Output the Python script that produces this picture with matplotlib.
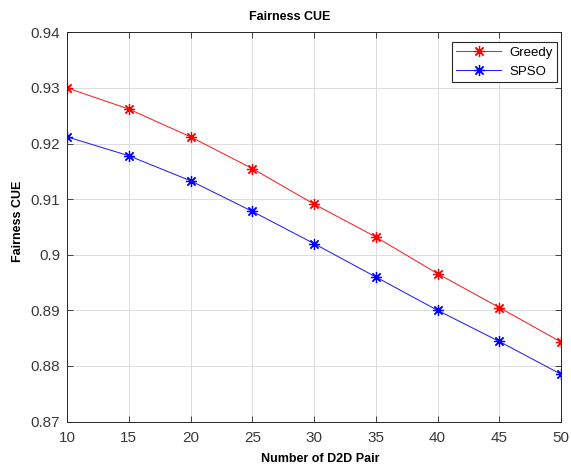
import matplotlib
matplotlib.use("Agg")
import matplotlib.pyplot as plt

x_pairs = [10, 15, 20, 25, 30, 35, 40, 45, 50]
greedy = [0.9300, 0.9262, 0.9212, 0.9155, 0.9091, 0.9032, 0.8966, 0.8905, 0.8843]
spso = [0.9212, 0.9178, 0.9133, 0.9078, 0.9020, 0.8960, 0.8900, 0.8844, 0.8785]
yticks = [0.87, 0.88, 0.89, 0.90, 0.91, 0.92, 0.93, 0.94]
ytick_labels = ["0.87", "0.88", "0.89", "0.9", "0.91", "0.92", "0.93", "0.94"]

plt.rcParams['font.family'] = ['Liberation Sans', 'DejaVu Sans']

W, H = 571, 466
fig = plt.figure(figsize=(W / 100, H / 100), dpi=100)
ax = fig.add_axes([67 / W, 1 - 421.5 / H, (561 - 67) / W, (421.5 - 32.3) / H])

ast = (8, 2, 0)
ax.plot(x_pairs, greedy, color='#ff2020', marker=ast, markersize=8, linewidth=0.75,
        markeredgewidth=0.9, markeredgecolor='#ff0000', label='Greedy')
ax.plot(x_pairs, spso, color='#2020ff', marker=ast, markersize=8, linewidth=0.75,
        markeredgewidth=0.9, markeredgecolor='#0000ff', label='SPSO')

ax.set_xlim(10, 50)
ax.set_ylim(0.87, 0.94)
ax.set_xticks(x_pairs)
ax.set_yticks(yticks)
ax.set_yticklabels(ytick_labels)
ax.tick_params(direction='in', length=4, width=0.6, labelsize=11, colors='#262626',
               labelcolor='#3a3a3a', top=True, right=True)
ax.tick_params(axis='x', pad=7)
ax.tick_params(axis='y', pad=5)
ax.grid(True, color='#dcdcdc', linewidth=0.7)
ax.set_axisbelow(True)
for s in ax.spines.values():
    s.set_color('#262626')
    s.set_linewidth(0.7)

fig.text(290 / W, 1 - 20 / H, 'Fairness CUE', fontsize=9, fontweight='bold',
         ha='center', va='baseline')
fig.text(320 / W, 1 - 461.5 / H, 'Number of D2D Pair', fontsize=9, fontweight='bold',
         ha='center', va='baseline')
fig.text(18 / W, 1 - 221 / H, 'Fairness CUE', fontsize=9, fontweight='bold',
         ha='center', va='center', rotation=90)

leg = ax.legend(loc='upper right', fontsize=9.5, fancybox=False, framealpha=1,
                edgecolor='#262626', borderpad=0.35, handlelength=3.4,
                handletextpad=0.6, borderaxespad=0,
                bbox_to_anchor=(0.992, 0.975))
leg.get_frame().set_linewidth(0.8)

fig.savefig('out.png', dpi=100)
